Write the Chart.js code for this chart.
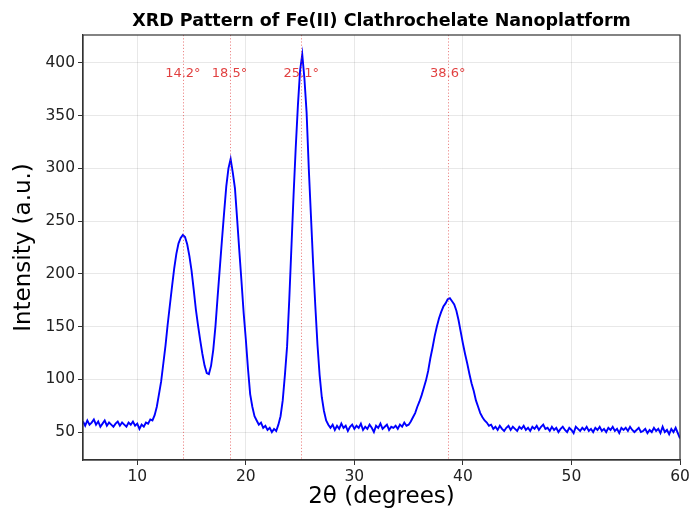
<!DOCTYPE html>
<html><head><meta charset="utf-8">
<script src="https://cdn.jsdelivr.net/npm/chart.js@4/dist/chart.umd.min.js"></script>
<style>html,body{margin:0;padding:0;background:#fff}#wrap{width:691px;height:511px}</style>
</head><body><div id="wrap"><canvas id="c" width="691" height="511"></canvas></div>
<script>
// 2θ grid of the scan (degrees)
const angleStart = 5.0;
const angleStep = 0.2;
// Intensity, 5 readings per degree (5.0 ... 59.8), then 60.0
const intensity = [
  60, 56, 61, 57, 59,   // 5
  62, 57, 60, 55, 58,   // 6
  61, 56, 59, 57, 55,   // 7
  58, 60, 56, 59, 57,   // 8
  55, 59, 57, 60, 56,   // 9
  58, 53, 57, 55, 59,   // 10
  58, 62, 61, 66, 74,   // 11
  86, 98, 115, 132, 152, // 12
  170, 188, 205, 219, 229, // 13
  234, 237, 235, 228, 217, // 14
  203, 185, 166, 151, 137, // 15
  124, 113, 106, 105, 113, // 16
  128, 150, 178, 205, 232, // 17
  258, 283, 300, 309, 296, // 18
  281, 252, 222, 193, 163, // 19
  138, 110, 86, 74, 65,  // 20
  61, 57, 59, 54, 56,    // 21
  52, 54, 50, 53, 51,    // 22
  57, 65, 80, 104, 131,  // 23
  175, 225, 275, 320, 360, // 24
  393, 408, 385, 353, 300, // 25
  255, 210, 170, 133, 104, // 26
  83, 70, 61, 57, 54,    // 27
  57, 52, 56, 53, 58,    // 28
  54, 56, 51, 55, 57,    // 29
  53, 56, 54, 58, 52,    // 30
  55, 53, 57, 54, 50,    // 31
  56, 54, 58, 53, 55,    // 32
  57, 52, 55, 54, 56,    // 33
  53, 57, 55, 59, 56,    // 34
  57, 60, 64, 68, 74,    // 35
  79, 85, 92, 99, 108,   // 36
  120, 130, 141, 150, 158, // 37
  164, 169, 172, 176, 177, // 38
  174, 171, 165, 156, 145, // 39
  134, 124, 115, 105, 96, // 40
  89, 80, 74, 68, 64,    // 41
  61, 59, 56, 57, 53,    // 42
  55, 52, 56, 53, 51,    // 43
  54, 56, 52, 55, 53,    // 44
  51, 55, 53, 56, 52,    // 45
  54, 51, 55, 53, 56,    // 46
  52, 55, 57, 53, 54,    // 47
  51, 55, 52, 54, 50,    // 48
  53, 55, 52, 50, 54,    // 49
  52, 49, 55, 53, 51,    // 50
  54, 52, 55, 51, 53,    // 51
  50, 54, 52, 55, 51,    // 52
  53, 50, 54, 52, 55,    // 53
  51, 53, 49, 54, 52,    // 54
  54, 51, 55, 52, 50,    // 55
  52, 54, 50, 51, 53,    // 56
  49, 52, 50, 54, 51,    // 57
  53, 49, 55, 50, 52,    // 58
  48, 53, 50, 54, 49,    // 59
  44                     // 60
];
const peakPositions = [14.2, 18.5, 25.1, 38.6];
const peakLabels = ['14.2°', '18.5°', '25.1°', '38.6°'];
const peakLabelLevel = 390;
const xTicks = [10, 20, 30, 40, 50, 60];
const yTicks = [50, 100, 150, 200, 250, 300, 350, 400];
const chartTitle = 'XRD Pattern of Fe(II) Clathrochelate Nanoplatform';

const points = intensity.map((v, i) => ({ x: +(angleStart + i * angleStep).toFixed(2), y: v }));

const FONT = "'DejaVu Sans', sans-serif";

const framePlugin = {
  id: 'frame',
  afterDatasetsDraw(chart) {
    const { ctx, chartArea: a, scales: { x, y } } = chart;
    ctx.save();
    // peak markers
    ctx.strokeStyle = 'rgba(220,40,40,0.55)';
    ctx.lineWidth = 1;
    ctx.setLineDash([1.2, 2]);
    peakPositions.forEach(p => {
      const px = Math.round(x.getPixelForValue(p)) + 0.5;
      ctx.beginPath(); ctx.moveTo(px, a.top); ctx.lineTo(px, a.bottom); ctx.stroke();
    });
    ctx.setLineDash([]);
    ctx.fillStyle = 'rgba(220,30,30,0.85)';
    ctx.font = "13px " + FONT;
    ctx.textAlign = 'center';
    ctx.textBaseline = 'middle';
    peakPositions.forEach((p, i) => {
      ctx.fillText(peakLabels[i], x.getPixelForValue(p), y.getPixelForValue(peakLabelLevel));
    });
    // full box
    ctx.strokeStyle = '#333';
    ctx.lineWidth = 1.2;
    ctx.strokeRect(a.left, a.top, a.right - a.left, a.bottom - a.top);
    // title centred over the plot area
    ctx.fillStyle = '#000';
    ctx.font = "bold 17.5px " + FONT;
    ctx.textAlign = 'center';
    ctx.textBaseline = 'middle';
    ctx.fillText(chartTitle, (a.left + a.right) / 2, 21);
    ctx.restore();
  }
};

new Chart(document.getElementById('c'), {
  type: 'line',
  data: {
    datasets: [{
      data: points,
      borderColor: '#0000ff',
      borderWidth: 1.9,
      pointRadius: 0,
      tension: 0,
      fill: false
    }]
  },
  options: {
    responsive: false,
    animation: false,
    devicePixelRatio: 1,
    layout: { padding: { top: 35, right: 11, left: 0, bottom: 0 } },
    plugins: {
      legend: { display: false },
      tooltip: { enabled: false },
      title: { display: false }
    },
    scales: {
      x: {
        type: 'linear',
        min: 5, max: 60,
        afterBuildTicks: s => { s.ticks = xTicks.map(v => ({ value: v })); },
        afterFit: s => { s.height = 51; s.paddingRight = 0; s.paddingLeft = 0; },
        grid: { color: 'rgba(0,0,0,0.09)', lineWidth: 1, tickColor: '#333', tickLength: 5, drawTicks: true },
        border: { display: true, color: '#333', width: 1.2 },
        ticks: { color: '#222', font: { family: FONT, size: 15.5 }, padding: 3, maxRotation: 0 },
        title: { display: true, text: '2θ (degrees)', color: '#000', font: { family: FONT, size: 23, lineHeight: 1.2 }, padding: { top: 0, bottom: 0 } }
      },
      y: {
        min: 23.5, max: 426.5,
        afterBuildTicks: s => { s.ticks = yTicks.map(v => ({ value: v })); },
        afterFit: s => { s.width = 83; s.paddingTop = 0; s.paddingBottom = 0; },
        grid: { color: 'rgba(0,0,0,0.09)', lineWidth: 1, tickColor: '#333', tickLength: 5, drawTicks: true },
        border: { display: true, color: '#333', width: 1.2 },
        ticks: { color: '#222', font: { family: FONT, size: 15.5 }, padding: 3 },
        title: { display: true, text: 'Intensity (a.u.)', color: '#000', font: { family: FONT, size: 23, lineHeight: 1.2 }, padding: { top: 10, bottom: 0 } }
      }
    }
  },
  plugins: [framePlugin]
});
</script>
</body></html>
